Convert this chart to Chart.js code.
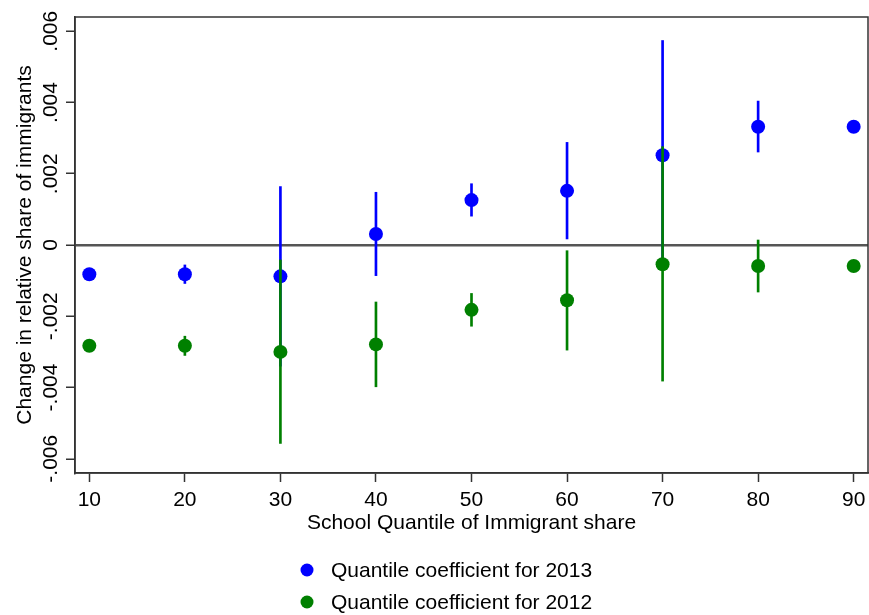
<!DOCTYPE html>
<html>
<head>
<meta charset="utf-8">
<script src="https://cdn.jsdelivr.net/npm/chart.js@4/dist/chart.umd.min.js"></script>
<style>
  html, body { margin: 0; padding: 0; background: #fff; overflow: hidden; }
  canvas { display: block; }
</style>
</head>
<body>
<canvas id="chart" width="869" height="615"></canvas>
<script>
// values
const quantiles = [10, 20, 30, 40, 50, 60, 70, 80, 90];
const coef2013 = [-0.00082, -0.00082, -0.00088, 0.00031, 0.00126, 0.00152, 0.00252, 0.00332, 0.00332];
const lo2013 = [null, -0.00108, -0.0034, -0.00086, 0.00081, 0.00017, -0.0007, 0.00261, null];
const hi2013 = [null, -0.00056, 0.00164, 0.00148, 0.00172, 0.00288, 0.00574, 0.00404, null];
const coef2012 = [-0.00283, -0.00283, -0.003, -0.00279, -0.00182, -0.00155, -0.00054, -0.00059, -0.00059];
const lo2012 = [null, -0.0031, -0.00557, -0.00398, -0.00228, -0.00295, -0.00382, -0.00132, null];
const hi2012 = [null, -0.00256, -0.00042, -0.0016, -0.00136, -0.00016, 0.00276, 0.00014, null];
const xTicks = [10, 20, 30, 40, 50, 60, 70, 80, 90];
const yTicks = [-0.006, -0.004, -0.002, 0, 0.002, 0.004, 0.006];

const BLUE = '#0000ff';
const GREEN = '#008000';
const FONT = 'Liberation Sans, Arial, Helvetica, sans-serif';

const points = (ys) => quantiles.map((q, i) => ({x: q, y: ys[i]}));
const ranges = (lo, hi) => quantiles
    .map((q, i) => ({x: q, y: [lo[i], hi[i]]}))
    .filter(d => d.y[0] !== null);

const fmtTick = (v) => {
    if (Math.abs(v) < 1e-12) return '0';
    const s = Math.abs(v).toFixed(3).replace(/^0/, '');
    return v < 0 ? '-' + s : s;
};

// frame around plot area + stacked legend underneath
const framePlugin = {
    id: 'frame',
    afterDraw(chart) {
        const {ctx, chartArea: a} = chart;
        ctx.save();
        ctx.strokeStyle = '#333';
        ctx.lineWidth = 1.5;
        ctx.strokeRect(a.left, a.top, a.right - a.left, a.bottom - a.top);

        const items = chart.data.datasets.filter(d => d.type === 'scatter');
        ctx.font = '21px ' + FONT;
        ctx.textBaseline = 'middle';
        ctx.textAlign = 'left';
        items.forEach((d, i) => {
            const y = 570 + i * 32;
            ctx.fillStyle = d.backgroundColor;
            ctx.beginPath();
            ctx.arc(307, y, 6.5, 0, Math.PI * 2);
            ctx.fill();
            ctx.fillStyle = '#000';
            ctx.fillText(d.label, 331, y + 1);
        });
        ctx.restore();
    }
};

const ctx = document.getElementById('chart').getContext('2d');
new Chart(ctx, {
    type: 'scatter',
    data: {
        datasets: [{
            type: 'bar',
            label: 'ci2013',
            data: ranges(lo2013, hi2013),
            backgroundColor: BLUE,
            barThickness: 2,
            grouped: false,
            order: 4
        }, {
            type: 'scatter',
            label: 'Quantile coefficient for 2013',
            data: points(coef2013),
            backgroundColor: BLUE,
            borderColor: BLUE,
            pointRadius: 7,
            pointBorderWidth: 0,
            order: 3
        }, {
            type: 'bar',
            label: 'ci2012',
            data: ranges(lo2012, hi2012),
            backgroundColor: GREEN,
            barThickness: 2,
            grouped: false,
            order: 2
        }, {
            type: 'scatter',
            label: 'Quantile coefficient for 2012',
            data: points(coef2012),
            backgroundColor: GREEN,
            borderColor: GREEN,
            pointRadius: 7,
            pointBorderWidth: 0,
            order: 1
        }]
    },
    options: {
        responsive: false,
        animation: false,
        events: [],
        layout: {
            autoPadding: false,
            padding: {top: 17, right: 1, bottom: 79, left: 0}
        },
        scales: {
            x: {
                type: 'linear',
                min: 8.5,
                max: 91.5,
                offset: false,
                afterBuildTicks: s => { s.ticks = xTicks.map(v => ({value: v})); },
                afterFit: s => { s.height = 63; s.paddingLeft = 0; s.paddingRight = 0; },
                grid: {
                    offset: false,
                    drawOnChartArea: false,
                    drawTicks: true,
                    tickLength: 9,
                    tickColor: '#333',
                    tickWidth: 1.5
                },
                border: {display: true, color: '#333', width: 1.5},
                ticks: {
                    color: '#000',
                    padding: 6,
                    maxRotation: 0,
                    font: {family: FONT, size: 21}
                },
                title: {
                    display: true,
                    text: 'School Quantile of Immigrant share',
                    color: '#000',
                    padding: {top: 0, bottom: 0},
                    font: {family: FONT, size: 21}
                }
            },
            y: {
                type: 'linear',
                min: -0.0064,
                max: 0.0064,
                afterBuildTicks: s => { s.ticks = yTicks.map(v => ({value: v})); },
                afterFit: s => { s.width = 75; },
                grid: {
                    drawOnChartArea: true,
                    drawTicks: true,
                    tickLength: 9,
                    color: c => (c.tick && c.tick.value === 0) ? '#555' : 'rgba(0,0,0,0)',
                    lineWidth: 2.5,
                    tickColor: '#333',
                    tickWidth: 1.5
                },
                border: {display: true, color: '#333', width: 1.5},
                ticks: {
                    color: '#000',
                    minRotation: 90,
                    maxRotation: 90,
                    crossAlign: 'center',
                    padding: -9,
                    font: {family: FONT, size: 21},
                    callback: v => fmtTick(v)
                },
                title: {
                    display: true,
                    text: 'Change in relative share of immigrants',
                    color: '#000',
                    padding: {top: 13, bottom: 0},
                    font: {family: FONT, size: 21}
                }
            }
        },
        plugins: {
            legend: {display: false},
            tooltip: {enabled: false}
        }
    },
    plugins: [framePlugin]
});
</script>
</body>
</html>
